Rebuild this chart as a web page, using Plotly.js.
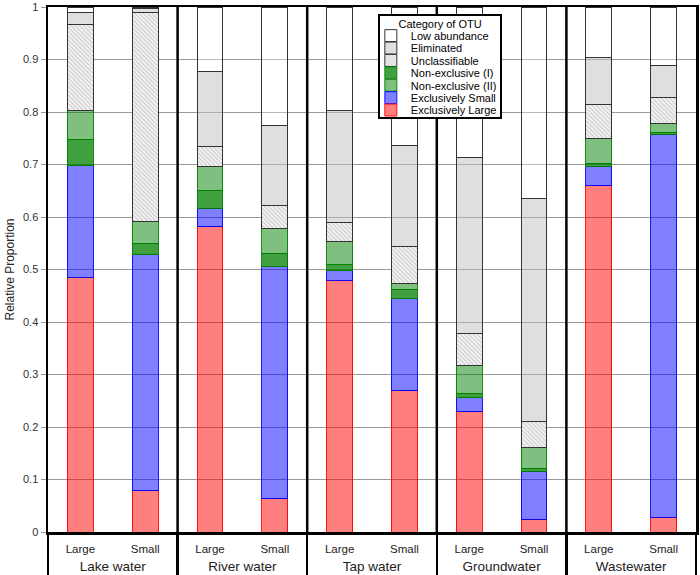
<!DOCTYPE html>
<html>
<head>
<meta charset="utf-8">
<script src="https://cdn.plot.ly/plotly-3.0.1.min.js"></script>
<style>html,body{margin:0;padding:0;background:#fff;}#chart{width:700px;height:575px;}</style>
</head>
<body>
<div id="chart"></div>
<script>
// Categories
const groups = ['Lake water', 'River water', 'Tap water', 'Groundwater', 'Wastewater'];
const sizes = ['Large', 'Small'];
// Series values, order: Lake L, Lake S, River L, River S, Tap L, Tap S, Ground L, Ground S, Waste L, Waste S
const exclusivelyLarge = [0.485, 0.079, 0.581, 0.063, 0.480, 0.269, 0.229, 0.024, 0.660, 0.028];
const exclusivelySmall = [0.213, 0.449, 0.036, 0.442, 0.018, 0.175, 0.027, 0.092, 0.037, 0.730];
const nonExclusiveI    = [0.049, 0.022, 0.033, 0.025, 0.012, 0.018, 0.007, 0.005, 0.004, 0.003];
const nonExclusiveII   = [0.055, 0.042, 0.046, 0.048, 0.043, 0.012, 0.054, 0.040, 0.049, 0.017];
const unclassifiable   = [0.165, 0.398, 0.039, 0.044, 0.036, 0.069, 0.062, 0.049, 0.065, 0.050];
const eliminated       = [0.023, 0.007, 0.142, 0.153, 0.213, 0.194, 0.335, 0.426, 0.089, 0.061];
const lowAbundance     = [0.010, 0.003, 0.123, 0.225, 0.198, 0.263, 0.286, 0.364, 0.096, 0.111];
const yTicks = [0, 0.1, 0.2, 0.3, 0.4, 0.5, 0.6, 0.7, 0.8, 0.9, 1];

const xOuter = [], xInner = [];
groups.forEach(g => sizes.forEach(s => {
  xOuter.push('<span style="font-size:13.5px">' + g + '</span>');
  xInner.push(s);
}));
const x = [xOuter, xInner];

function bar(name, y, fill, edge, rank, pattern) {
  const t = {
    type: 'bar', name: name, x: x, y: y, legendrank: rank,
    marker: { color: fill, line: { color: edge, width: 1 } },
    hoverinfo: 'name+y'
  };
  if (pattern) t.marker.pattern = pattern;
  return t;
}

const data = [
  bar('Exclusively Large', exclusivelyLarge, 'rgba(255,0,0,0.5)', 'rgba(255,0,0,0.9)', 7),
  bar('Exclusively Small', exclusivelySmall, 'rgba(0,0,255,0.5)', 'rgba(0,0,255,0.9)', 6),
  bar('Non-exclusive (I)', nonExclusiveI, 'rgba(0,128,0,0.75)', 'rgba(0,128,0,0.9)', 4),
  bar('Non-exclusive (II)', nonExclusiveII, 'rgba(0,128,0,0.5)', 'rgba(0,128,0,0.9)', 5),
  bar('Unclassifiable', unclassifiable, '#eeeeee', '#333333', 3,
      { shape: '\\', fgcolor: '#a0a0a0', bgcolor: '#f0f0f0', size: 3, solidity: 0.2 }),
  bar('Eliminated', eliminated, 'rgba(192,192,192,0.5)', '#333333', 2),
  bar('Low abundance', lowAbundance, 'rgba(255,255,255,0.3)', '#333333', 1)
];

const shapes = [];
for (let g = 1; g < groups.length; g++) {
  const pos = g * sizes.length - 0.5;
  shapes.push({ type: 'line', xref: 'x', yref: 'paper', x0: pos, x1: pos, y0: 0, y1: 1,
                line: { color: '#000', width: 2.5 }, layer: 'above' });
}

const layout = {
  width: 700, height: 575,
  margin: { l: 48, r: 4, t: 7, b: 43 },
  paper_bgcolor: '#fff', plot_bgcolor: '#fff',
  font: { family: 'Liberation Sans, Arial, sans-serif', color: '#222', size: 11 },
  barmode: 'stack', bargap: 0.6,
  showlegend: true,
  legend: {
    x: 0.509, y: 0.987, xanchor: 'left', yanchor: 'top',
    traceorder: 'normal',
    bgcolor: '#fff', bordercolor: '#000', borderwidth: 2,
    font: { size: 11, color: '#000' },
    title: { text: 'Category of OTU', side: 'top center', font: { size: 11, color: '#000' } },
    tracegroupgap: 0
  },
  xaxis: {
    type: 'multicategory',
    showline: true, linecolor: '#000', linewidth: 2.5, mirror: true,
    showdividers: true, dividercolor: '#000', dividerwidth: 2.5,
    ticks: '', ticklabelstandoff: 5,
    tickfont: { size: 11.5, color: '#222' },
    showgrid: false, fixedrange: true
  },
  yaxis: {
    range: [0, 1], tickvals: yTicks, ticktext: yTicks.map(v => String(v)),
    showline: true, linecolor: '#000', linewidth: 2.5, mirror: true,
    ticks: 'outside', ticklen: 5, tickcolor: '#999',
    showgrid: true, gridcolor: '#9a9a9a', gridwidth: 1,
    zeroline: false,
    tickfont: { size: 11, color: '#333' },
    title: { text: 'Relative Proportion', font: { size: 12, color: '#222' }, standoff: 6 }
  },
  shapes: shapes
};

Plotly.newPlot('chart', data, layout, { displayModeBar: false, staticPlot: true }).then(gd => {
  // compact legend rows to match the tighter row spacing of the original
  const items = Array.from(gd.querySelectorAll('.legend .traces'));
  if (items.length >= 2) {
    const pos = items.map(t => {
      const m = /translate\(\s*([-\d.e]+)[ ,]+([-\d.e]+)\s*\)/.exec(t.getAttribute('transform') || '');
      return m ? [parseFloat(m[1]), parseFloat(m[2])] : null;
    });
    if (!pos.some(p => !p)) {
      const step = 12.4;
      const y0 = pos[0][1] - 9;
      const dx = -9;
      items.forEach((t, i) => t.setAttribute('transform',
        'translate(' + (pos[i][0] + dx) + ',' + (y0 + i * step) + ')'));
      const texts = items.map(t => t.querySelector('.legendtext')).filter(Boolean);
      const maxRight = Math.max.apply(null, texts.map(t => t.getBoundingClientRect().right));
      const lb = texts[texts.length - 1].getBoundingClientRect();
      const bg = gd.querySelector('.legend rect.bg');
      if (bg) {
        let r = bg.getBoundingClientRect();
        const h = parseFloat(bg.getAttribute('height'));
        bg.setAttribute('height', h - (r.bottom - (lb.bottom + 2)));
        const w = parseFloat(bg.getAttribute('width'));
        bg.setAttribute('width', w - (r.right - (maxRight + 5)));
        r = bg.getBoundingClientRect();
        const title = gd.querySelector('.legend .legendtitletext');
        if (title) {
          const tb = title.getBoundingClientRect();
          const shiftX = (r.left + r.right) / 2 - (tb.left + tb.right) / 2;
          const tr = title.getAttribute('transform') || '';
          title.setAttribute('transform', (tr + ' translate(' + shiftX + ',-2)').trim());
        }
      }
    }
  }
  // push the group-label row down to match the original spacing
  gd.querySelectorAll('.xtick2 text').forEach(t => {
    const tr = t.getAttribute('transform') || '';
    t.setAttribute('transform', (tr + ' translate(0,9)').trim());
  });
  gd.querySelectorAll('path.xdivider').forEach(p => {
    const d = p.getAttribute('d') || '';
    p.setAttribute('d', d.replace(/v([-\d.]+)/, (m, v) => 'v' + (parseFloat(v) + 12)));
  });
});
</script>
</body>
</html>
